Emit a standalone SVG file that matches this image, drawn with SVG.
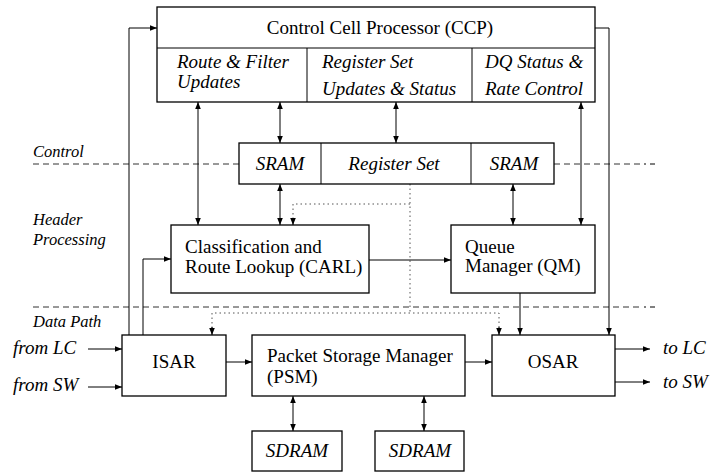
<svg xmlns="http://www.w3.org/2000/svg" width="727" height="472" viewBox="0 0 727 472">
<style>
.box{fill:#fff;stroke:#000;stroke-width:1.3}
.t{font-family:"Liberation Serif",serif;font-size:19px;fill:#000}
.i{font-family:"Liberation Serif",serif;font-size:19px;font-style:italic;fill:#000}
.s{font-family:"Liberation Serif",serif;font-size:16.5px;font-style:italic;fill:#000}
.ln{fill:none;stroke:#000;stroke-width:1}
.dot{fill:none;stroke:#555;stroke-width:1;stroke-dasharray:1.5 3}
.dash{fill:none;stroke:#333;stroke-width:1;stroke-dasharray:6 4}
</style>
<defs>
<marker id="a" viewBox="0 0 10 10" refX="10" refY="5" markerWidth="10" markerHeight="7" markerUnits="userSpaceOnUse" orient="auto-start-reverse">
<path d="M0,1 L10,5 L0,9 z" fill="#000"/>
</marker>
</defs>
<g id="layers">
<path class="dash" d="M33,164 H239 M554,164 H640"/>
<path class="ln" d="M644,164 H646 M650,164 H655"/>
<path class="dash" d="M33,307 H640"/>
<path class="ln" d="M644,307 H646 M650,307 H655"/>
<text class="s" x="33" y="157">Control</text>
<text class="s" x="33" y="225">Header</text>
<text class="s" x="33" y="245">Processing</text>
<text class="s" x="33" y="327">Data Path</text>
</g>
<g id="connectors">
<path class="ln" d="M198,102 V225" marker-start="url(#a)" marker-end="url(#a)"/>
<path class="ln" d="M280,102 V143" marker-start="url(#a)" marker-end="url(#a)"/>
<path class="ln" d="M396,102 V143" marker-start="url(#a)" marker-end="url(#a)"/>
<path class="ln" d="M581,102 V225" marker-start="url(#a)" marker-end="url(#a)"/>
<path class="ln" d="M280,184 V225" marker-start="url(#a)" marker-end="url(#a)"/>
<path class="ln" d="M513,184 V225" marker-start="url(#a)" marker-end="url(#a)"/>
<path class="dot" d="M410,184 V313"/>
<path class="dot" d="M410,204 H293 V218"/>
<path class="ln" d="M293,219 V225" marker-end="url(#a)"/>
<path class="dot" d="M212,328 V313 H499 V328"/>
<path class="ln" d="M212,327 V335" marker-end="url(#a)"/>
<path class="ln" d="M499,327 V335" marker-end="url(#a)"/>
<path class="ln" d="M369,260 H451" marker-end="url(#a)"/>
<path class="ln" d="M520,293 V335" marker-end="url(#a)"/>
<path class="ln" d="M595,28 H609 V335" marker-end="url(#a)"/>
<path class="ln" d="M129,335 V28 H157" marker-end="url(#a)"/>
<path class="ln" d="M143,335 V259 H171" marker-end="url(#a)"/>
<path class="ln" d="M88,349 H122" marker-end="url(#a)"/>
<path class="ln" d="M88,387 H122" marker-end="url(#a)"/>
<path class="ln" d="M226,362 H252" marker-end="url(#a)"/>
<path class="ln" d="M465,362 H492" marker-end="url(#a)"/>
<path class="ln" d="M615,349 H650" marker-end="url(#a)"/>
<path class="ln" d="M615,382 H650" marker-end="url(#a)"/>
<path class="ln" d="M293,396 V431" marker-start="url(#a)" marker-end="url(#a)"/>
<path class="ln" d="M424,396 V431" marker-start="url(#a)" marker-end="url(#a)"/>
<text class="i" x="13" y="354">from LC</text>
<text class="i" x="13" y="391">from SW</text>
<text class="i" x="663" y="354">to LC</text>
<text class="i" x="663" y="388">to SW</text>
</g>
<g id="ccp">
<rect class="box" x="157" y="7" width="438" height="95"/>
<path class="ln" d="M157,48 H595 M307,48 V102 M472,48 V102" stroke-width="1.3"/>
<text class="t" x="380" y="34" text-anchor="middle">Control Cell Processor (CCP)</text>
<text class="i" x="177" y="68">Route &amp; Filter</text>
<text class="i" x="177" y="88">Updates</text>
<text class="i" x="322" y="68">Register Set</text>
<text class="i" x="322" y="95">Updates &amp; Status</text>
<text class="i" x="485" y="68">DQ Status &amp;</text>
<text class="i" x="485" y="95">Rate Control</text>
</g>
<g id="sram-regset">
<rect class="box" x="239" y="143" width="315" height="41"/>
<path class="ln" d="M321,143 V184 M471,143 V184" stroke-width="1.3"/>
<text class="i" x="280" y="170" text-anchor="middle">SRAM</text>
<text class="i" x="394" y="170" text-anchor="middle">Register Set</text>
<text class="i" x="514" y="170" text-anchor="middle">SRAM</text>
</g>
<g id="carl">
<rect class="box" x="171" y="225" width="198" height="68"/>
<text class="t" x="185" y="253">Classification and</text>
<text class="t" x="185" y="273">Route Lookup (CARL)</text>
</g>
<g id="qm">
<rect class="box" x="451" y="225" width="144" height="68"/>
<text class="t" x="465" y="253">Queue</text>
<text class="t" x="465" y="272">Manager (QM)</text>
</g>
<g id="isar">
<rect class="box" x="122" y="335" width="104" height="61"/>
<text class="t" x="174" y="368" text-anchor="middle">ISAR</text>
</g>
<g id="psm">
<rect class="box" x="252" y="335" width="213" height="61"/>
<text class="t" x="267" y="362">Packet Storage Manager</text>
<text class="t" x="267" y="383">(PSM)</text>
</g>
<g id="osar">
<rect class="box" x="492" y="335" width="123" height="61"/>
<text class="t" x="553" y="368" text-anchor="middle">OSAR</text>
</g>
<g id="sdram1">
<rect class="box" x="252" y="431" width="90" height="40"/>
<text class="i" x="297" y="457" text-anchor="middle">SDRAM</text>
</g>
<g id="sdram2">
<rect class="box" x="375" y="431" width="89" height="40"/>
<text class="i" x="420" y="457" text-anchor="middle">SDRAM</text>
</g>
</svg>
